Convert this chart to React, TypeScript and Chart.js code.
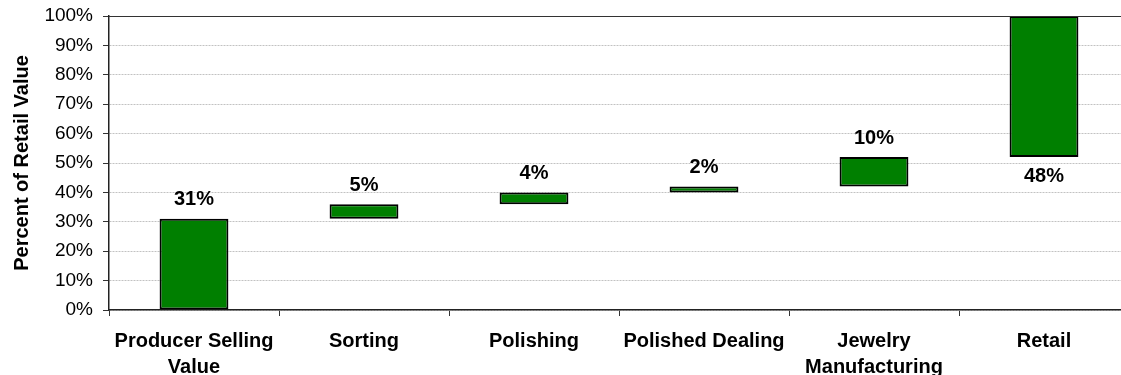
import React, { useEffect, useRef } from "react";
import { Chart, registerables } from "chart.js";

Chart.register(...registerables);

// Value chain stages (multi-line labels are arrays of lines)
const categories: (string | string[])[] = [
  ["Producer Selling", "Value"],
  "Sorting",
  "Polishing",
  "Polished Dealing",
  ["Jewelry", "Manufacturing"],
  "Retail",
];

// Share of retail value added at each stage, in percent
const steps: number[] = [31, 5, 4, 2, 10, 48];

// Y axis range and tick spacing, in percent
const yTicks = { min: 0, max: 100, step: 10 };

const FONT = '"Liberation Sans", Arial, Helvetica, sans-serif';

// Floating [start, end] ranges built from the running total
const ranges: [number, number][] = (() => {
  let acc = 0;
  return steps.map((s) => {
    const start = acc;
    acc += s;
    return [start, acc] as [number, number];
  });
})();

const valueLabels = {
  id: "valueLabels",
  afterDatasetsDraw(chart: Chart) {
    const { ctx } = chart;
    const meta = chart.getDatasetMeta(0);
    ctx.save();
    ctx.font = `bold 20px ${FONT}`;
    ctx.fillStyle = "#000";
    ctx.textAlign = "center";
    ctx.textBaseline = "middle";
    meta.data.forEach((bar: any, i: number) => {
      const { x, y, base } = bar.getProps(["x", "y", "base"], true);
      const top = Math.min(y, base);
      const bottom = Math.max(y, base);
      // the final stage carries its label underneath the bar
      const below = i === steps.length - 1;
      ctx.fillText(`${steps[i]}%`, x, below ? bottom + 19 : top - 19);
    });
    ctx.restore();
  },
};

const topFrame = {
  id: "topFrame",
  afterDraw(chart: Chart) {
    const { ctx, chartArea } = chart;
    ctx.save();
    ctx.strokeStyle = "#333";
    ctx.lineWidth = 1;
    ctx.beginPath();
    ctx.moveTo(chartArea.left, Math.round(chartArea.top) + 0.5);
    ctx.lineTo(chartArea.right, Math.round(chartArea.top) + 0.5);
    ctx.stroke();
    ctx.restore();
  },
};

export default function App() {
  const canvasRef = useRef<HTMLCanvasElement | null>(null);

  useEffect(() => {
    document.body.style.overflow = "hidden";
    const canvas = canvasRef.current;
    if (!canvas) return;
    Chart.defaults.font.family = FONT;

    const chart = new Chart(canvas, {
      type: "bar",
      data: {
        labels: categories,
        datasets: [
          {
            data: ranges as any,
            backgroundColor: "#007f00",
            borderColor: "#000",
            borderWidth: 2,
            borderSkipped: false,
            categoryPercentage: 1,
            barPercentage: 0.405,
          },
        ],
      },
      options: {
        animation: false,
        responsive: false,
        maintainAspectRatio: false,
        devicePixelRatio: 1,
        layout: { padding: { top: 16, right: 11, left: 0, bottom: 0 } },
        plugins: {
          legend: { display: false },
          tooltip: { enabled: false },
        },
        scales: {
          x: {
            grid: {
              drawOnChartArea: false,
              offset: true,
              tickColor: "#333",
              tickLength: 6,
            },
            border: { color: "#222", width: 1.5 },
            ticks: {
              color: "#000",
              font: { size: 20, weight: "bold", lineHeight: 1.3 },
              padding: 12,
              maxRotation: 0,
              autoSkip: false,
            },
            afterFit: (s: any) => {
              s.height = 65;
              s.paddingLeft = 0;
              s.paddingRight = 0;
            },
          },
          y: {
            min: yTicks.min,
            max: yTicks.max,
            ticks: {
              stepSize: yTicks.step,
              callback: (v: any) => `${v}%`,
              color: "#000",
              font: { size: 19 },
              padding: 10,
            },
            grid: {
              color: "#c2c2c2",
              lineWidth: 1,
              tickColor: "#333",
              tickLength: 6,
            },
            border: { color: "#222", width: 1.5, dash: [2, 1] },
            title: {
              display: true,
              text: "Percent of Retail Value",
              color: "#000",
              font: { size: 20, weight: "bold" },
              padding: { top: 10, bottom: 0 },
            },
            afterFit: (s: any) => {
              s.width = 109;
              s.paddingTop = 0;
              s.paddingBottom = 0;
            },
          },
        },
      },
      plugins: [valueLabels, topFrame],
    });

    return () => chart.destroy();
  }, []);

  return (
    <div style={{ position: "fixed", left: 0, top: 0, width: 1140, height: 375, background: "#fff" }}>
      <canvas ref={canvasRef} width={1140} height={375} style={{ display: "block" }} />
    </div>
  );
}
